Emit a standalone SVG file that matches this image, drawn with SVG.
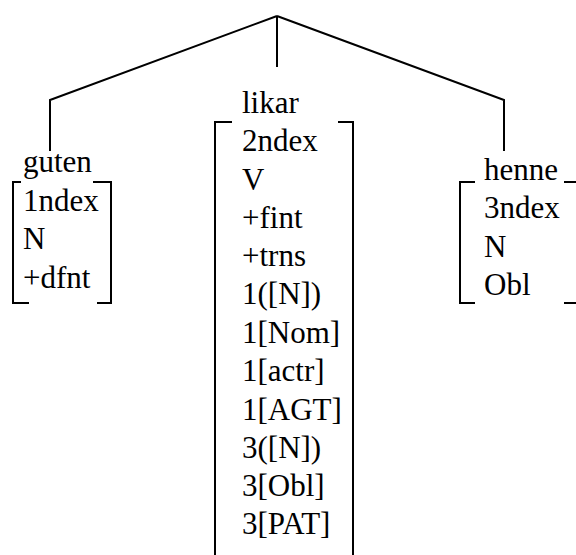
<svg xmlns="http://www.w3.org/2000/svg" width="576" height="555" viewBox="0 0 576 555">
  <style>
    .t { font-family: 'Liberation Serif', 'Times New Roman', serif; font-size: 31px; fill: #000; }
    .ln { fill: none; stroke: #000; stroke-width: 2; }
  </style>
  <rect width="576" height="555" fill="#fff"/>
  <!-- tree branches from the root -->
  <g id="connectors" class="ln">
    <path d="M277 16 L50 100 L50 151"/>
    <path d="M277 16 L277 67"/>
    <path d="M277 16 L504 100 L504 151"/>
  </g>
  <!-- left daughter -->
  <g id="guten">
    <path class="ln" d="M21 182 L13 182 L13 303 L29 303"/>
    <path class="ln" d="M93 182 L111 182 L111 303 L97 303"/>
    <text class="t" x="23" y="172">guten</text>
    <text class="t" x="23" y="211">1ndex</text>
    <text class="t" x="23" y="249">N</text>
    <text class="t" x="23" y="288">+dfnt</text>
  </g>
  <!-- verb node -->
  <g id="likar">
    <path class="ln" d="M232 122 L215 122 L215 556"/>
    <path class="ln" d="M338 122 L353 122 L353 556"/>
    <text class="t" x="242" y="113">likar</text>
    <text class="t" x="242" y="151">2ndex</text>
    <text class="t" x="242" y="190">V</text>
    <text class="t" x="242" y="228">+fint</text>
    <text class="t" x="242" y="266">+trns</text>
    <text class="t" x="242" y="304">1([N])</text>
    <text class="t" x="242" y="343">1[Nom]</text>
    <text class="t" x="242" y="381">1[actr]</text>
    <text class="t" x="242" y="420">1[AGT]</text>
    <text class="t" x="242" y="458">3([N])</text>
    <text class="t" x="242" y="496">3[Obl]</text>
    <text class="t" x="242" y="534">3[PAT]</text>
  </g>
  <!-- right daughter -->
  <g id="henne">
    <path class="ln" d="M475 182 L460 182 L460 303 L475 303"/>
    <path class="ln" d="M564 182 L578 182 M564 303 L578 303"/>
    <text class="t" x="484" y="180">henne</text>
    <text class="t" x="484" y="218">3ndex</text>
    <text class="t" x="484" y="257">N</text>
    <text class="t" x="484" y="295">Obl</text>
  </g>
</svg>
